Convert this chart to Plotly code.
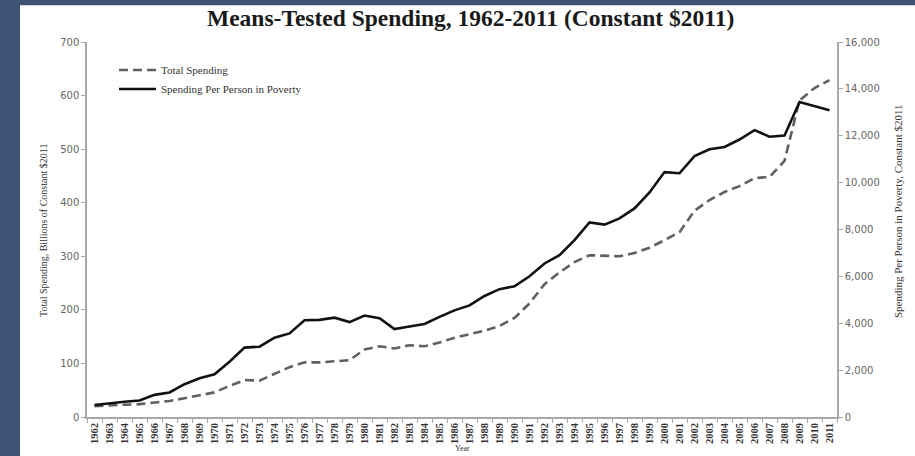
import plotly.graph_objects as go

years = [str(y) for y in range(1962, 2012)]
total_spending = [20, 22, 23, 24, 27, 30, 35, 41, 46, 58,
                  69, 68, 81, 93, 102, 102, 104, 106, 126, 132,
                  128, 134, 132, 139, 148, 154, 161, 170, 185, 212,
                  248, 270, 289, 302, 301, 300, 306, 316, 330, 345,
                  385, 405, 420, 431, 446, 448, 478, 591, 614, 629]
per_person = [515, 595, 650, 705, 945, 1045, 1400, 1655, 1825, 2360,
              2960, 3000, 3385, 3565, 4130, 4145, 4240, 4050, 4330, 4215,
              3750, 3860, 3970, 4270, 4550, 4760, 5165, 5455, 5580, 6005,
              6550, 6905, 7550, 8300, 8210, 8475, 8900, 9580, 10450, 10400,
              11130, 11420, 11520, 11840, 12240, 11960, 12010, 13440, 13260, 13090]

title_text = "Means-Tested Spending, 1962-2011 (Constant $2011)"
left_title = "Total Spending, Billions of Constant $2011"
right_title = "Spending Per Person in Poverty, Constant $2011"
x_title = "Year"

fig = go.Figure()
fig.add_trace(go.Scatter(x=years, y=total_spending, name="Total Spending", mode="lines",
                         line=dict(color="#606060", width=2.6, dash="9px,5px"), yaxis="y"))
fig.add_trace(go.Scatter(x=years, y=per_person, name="Spending Per Person in Poverty", mode="lines",
                         line=dict(color="#111111", width=2.6), yaxis="y2"))

axis_common = dict(showgrid=False, zeroline=False, showline=True, linecolor="#a8a8a8", linewidth=1.5,
                   ticks="outside", ticklen=4, tickcolor="#a8a8a8")

fig.update_layout(
    width=915, height=456,
    margin=dict(l=87, r=78, t=42, b=37),
    paper_bgcolor="#3f5375", plot_bgcolor="white",
    showlegend=True,
    legend=dict(x=0.036, y=0.964, xanchor="left", yanchor="top", bgcolor="rgba(0,0,0,0)",
                font=dict(family="Liberation Serif", size=11, color="#333"),
                itemwidth=37, tracegroupgap=3),
    xaxis=dict(type="category", range=[-0.5, 49.5], tickson="boundaries", tickangle=-90,
               tickfont=dict(family="Liberation Serif", size=10.5, color="#333", weight="bold"),
               **axis_common),
    yaxis=dict(range=[0, 700], dtick=100, tickfont=dict(family="DejaVu Sans", size=10, color="#666"),
               **axis_common),
    yaxis2=dict(range=[0, 16000], dtick=2000, tickformat=",", overlaying="y", side="right",
                tickfont=dict(family="DejaVu Sans", size=10, color="#666"), **axis_common),
    shapes=[dict(type="rect", xref="paper", yref="paper", x0=-0.0893, x1=1.2, y0=-0.2, y1=1.098,
                 fillcolor="white", line=dict(width=0), layer="below")],
    annotations=[
        dict(text="<b>" + title_text + "</b>", xref="paper", yref="paper", x=0.511, y=(419 - 18) / 377,
             xanchor="center", yanchor="middle", showarrow=False,
             font=dict(family="Liberation Serif", size=23.5, color="#1a1a1a")),
        dict(text=left_title, xref="paper", yref="paper", x=(44 - 87) / 750, y=(419 - 232) / 377,
             textangle=-90, xanchor="center", yanchor="middle", showarrow=False,
             font=dict(family="Liberation Serif", size=10, color="#333")),
        dict(text=right_title, xref="paper", yref="paper", x=(898 - 87) / 750, y=(419 - 212) / 377,
             textangle=-90, xanchor="center", yanchor="middle", showarrow=False,
             font=dict(family="Liberation Serif", size=11, color="#333")),
        dict(text=x_title, xref="paper", yref="paper", x=(462 - 87) / 750, y=(419 - 451) / 377,
             xanchor="center", yanchor="middle", showarrow=False,
             font=dict(family="Liberation Serif", size=8, color="#333")),
    ],
)

fig.write_html("out.html", config={"displayModeBar": False},
               post_script="document.body.style.margin='0';document.body.style.overflow='hidden';")
